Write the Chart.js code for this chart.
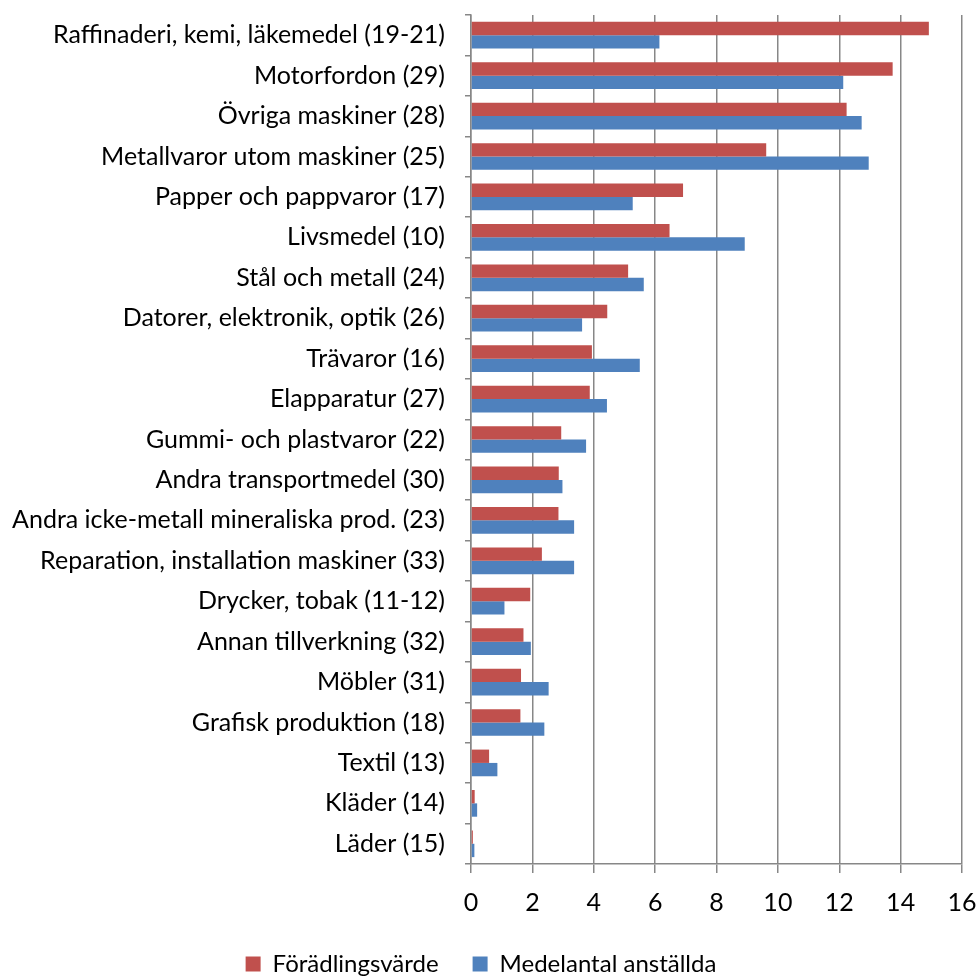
<!DOCTYPE html>
<html>
<head>
<meta charset="utf-8">
<script src="https://cdn.jsdelivr.net/npm/chart.js@4"></script>
<style>
  html, body { margin: 0; padding: 0; background: #fff; overflow: hidden; }
  #wrap { width: 977px; height: 986px; }
</style>
</head>
<body>
<div id="wrap"><canvas id="chart"></canvas></div>
<script>
// Branscher (kategorier)
const categories = [
  'Raffinaderi, kemi, läkemedel (19-21)',
  'Motorfordon (29)',
  'Övriga maskiner (28)',
  'Metallvaror utom maskiner (25)',
  'Papper och pappvaror (17)',
  'Livsmedel (10)',
  'Stål och metall (24)',
  'Datorer, elektronik, optik (26)',
  'Trävaror (16)',
  'Elapparatur (27)',
  'Gummi- och plastvaror (22)',
  'Andra transportmedel (30)',
  'Andra icke-metall mineraliska prod. (23)',
  'Reparation, installation maskiner (33)',
  'Drycker, tobak (11-12)',
  'Annan tillverkning (32)',
  'Möbler (31)',
  'Grafisk produktion (18)',
  'Textil (13)',
  'Kläder (14)',
  'Läder (15)'
];

const foradlingsvarde = [14.92, 13.74, 12.24, 9.62, 6.91, 6.47, 5.12, 4.44, 3.94, 3.87, 2.94, 2.86, 2.85, 2.31, 1.93, 1.71, 1.63, 1.61, 0.59, 0.12, 0.06];
const medelantal = [6.14, 12.13, 12.73, 12.96, 5.27, 8.92, 5.63, 3.62, 5.50, 4.43, 3.75, 2.98, 3.36, 3.36, 1.09, 1.95, 2.53, 2.39, 0.86, 0.20, 0.11];

const xTicks = [0, 2, 4, 6, 8, 10, 12, 14, 16];

const fontFamily = 'Lato, "Open Sans", sans-serif';
const gridColor = '#878787';

const ctx = document.getElementById('chart').getContext('2d');
new Chart(ctx, {
  type: 'bar',
  data: {
    labels: categories,
    datasets: [
      {
        label: 'Förädlingsvärde',
        data: foradlingsvarde,
        backgroundColor: '#C0504D',
        categoryPercentage: 0.66,
        barPercentage: 1.0
      },
      {
        label: 'Medelantal anställda',
        data: medelantal,
        backgroundColor: '#4F81BD',
        categoryPercentage: 0.66,
        barPercentage: 1.0
      }
    ]
  },
  options: {
    indexAxis: 'y',
    responsive: true,
    maintainAspectRatio: false,
    animation: false,
    layout: { padding: { top: 15, right: 15, bottom: 0, left: 0 } },
    scales: {
      x: {
        min: 0,
        max: 16,
        afterBuildTicks: (scale) => { scale.ticks = xTicks.map(v => ({ value: v })); },
        ticks: {
          color: '#000',
          font: { family: fontFamily, size: 25 },
          padding: 15
        },
        grid: { color: gridColor, lineWidth: 1.5, tickLength: 9 },
        border: { color: gridColor, width: 1.5 },
        afterFit: (scale) => {
          scale.height = 54;
          scale.paddingLeft = 0;
          scale.paddingRight = 0;
        }
      },
      y: {
        ticks: {
          color: '#000',
          font: { family: fontFamily, size: 25 },
          padding: 20,
          autoSkip: false
        },
        grid: { drawOnChartArea: false, color: gridColor, lineWidth: 1.5, tickLength: 6 },
        border: { color: gridColor, width: 1.5 },
        afterFit: (scale) => {
          scale.width = 471;
          scale.paddingTop = 0;
          scale.paddingBottom = 0;
        }
      }
    },
    plugins: {
      legend: {
        position: 'bottom',
        labels: {
          color: '#000',
          font: { family: fontFamily, size: 24 },
          boxWidth: 15,
          boxHeight: 15,
          padding: 34
        }
      },
      tooltip: { enabled: false }
    }
  }
});
</script>
</body>
</html>
